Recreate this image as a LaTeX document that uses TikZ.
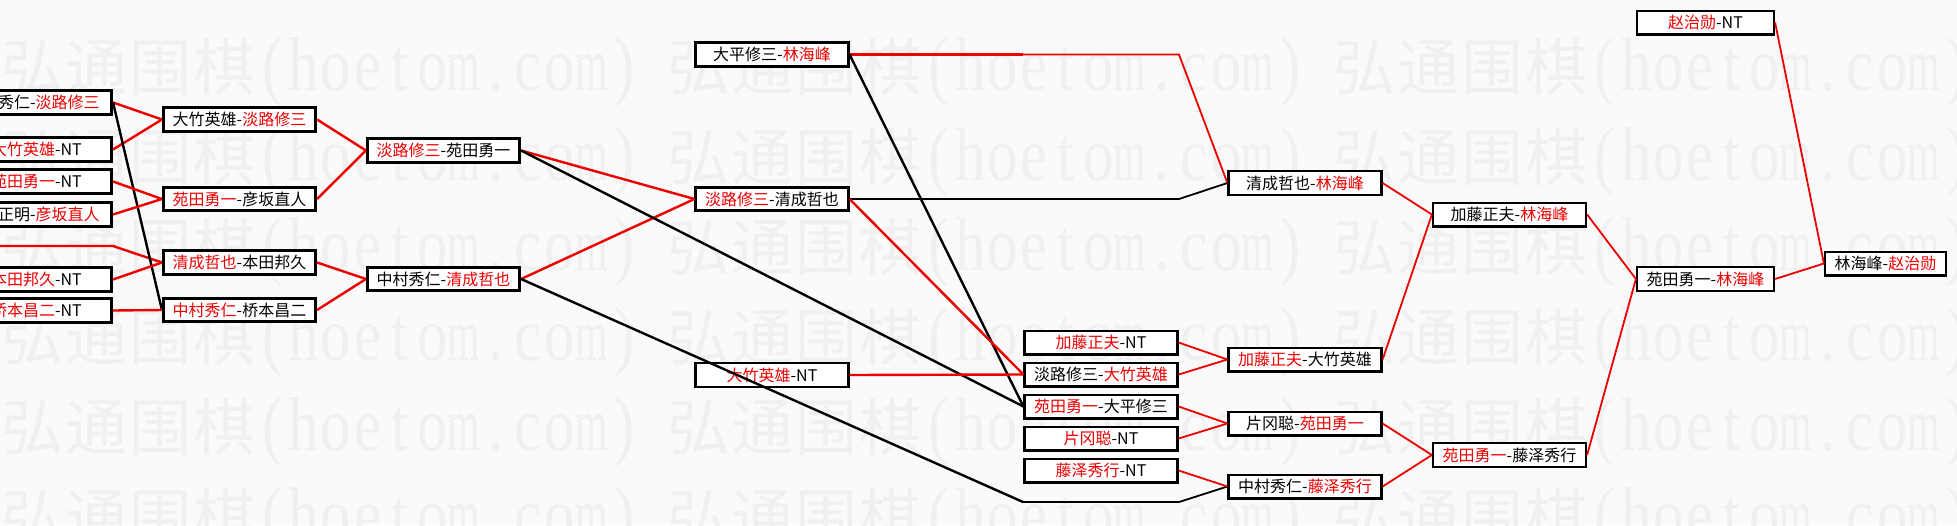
\documentclass[tikz,border=0pt]{standalone}
\usepackage{fontspec}
\usepackage{graphicx}
\setmainfont{Noto Sans CJK SC}
\newfontfamily\wmlat{Liberation Serif}
\definecolor{tred}{RGB}{236,0,0}
\definecolor{bgc}{RGB}{250,250,250}
\definecolor{wmc}{RGB}{240,240,240}
\newcommand\rd[1]{\textcolor{tred}{#1}}
\newcommand\wmC[1]{\makebox[64pt][c]{\fontsize{62}{62}\selectfont #1}}
\newcommand\wmA[2][0.8]{\makebox[32pt][c]{\wmlat\fontsize{76}{76}\selectfont\scalebox{#1}[1]{#2}}}
\newcommand\wmstr{\wmC{弘}\wmC{通}\wmC{围}\wmC{棋}\wmA{(}\wmA{h}\wmA{o}\wmA{e}\wmA{t}\wmA{o}\wmA[0.55]{m}\wmA{.}\wmA{c}\wmA{o}\wmA[0.55]{m}\wmA{)}}
\begin{document}
\begin{tikzpicture}[x=1pt,y=-1pt,
  box/.style={draw=black, line width=2.6pt, fill=white, minimum height=23.5pt,
    minimum width=152.5pt, inner sep=0pt, font=\fontsize{16}{16.5}\selectfont},
  boxr/.style={box, line width=2.2pt, minimum width=153pt, minimum height=23.8pt},
  box0/.style={box, text width=152.5pt, align=right},
  con/.style={line width=2.4pt, draw=tred},
  conk/.style={line width=2.4pt, draw=black},
  thn/.style={line width=1.8pt},
  wm/.style={anchor=base west, inner sep=0pt, text=wmc}]
\useasboundingbox (0,0) rectangle (1957,525);
\clip (0,0) rectangle (1957,525);
\fill[bgc] (0,0) rectangle (1957,525);
% watermark
\foreach \r in {0,...,5}{
  \foreach \c in {0,1,2}{
    \node[wm] (wm\r\c) at (666*\c, 90+90*\r) {\wmstr};
  }
}
% column 0 (cut off at the left edge)
\node[box0] (a1) at (35.5,102.5) {秀仁-\rd{淡路修三}\rule{12pt}{0pt}};
\node[box0] (a2) at (35.5,149.5) {\rd{大竹英雄}-NT\rule{30pt}{0pt}};
\node[box0] (a3) at (35.5,181.5) {\rd{苑田勇一}-NT\rule{30pt}{0pt}};
\node[box0] (a4) at (35.5,214.5) {正明-\rd{彦坂直人}\rule{12pt}{0pt}};
\node[box0] (a5) at (35.5,279.5) {\rd{本田邦久}-NT\rule{30pt}{0pt}};
\node[box0] (a6) at (35.5,310.5) {\rd{桥本昌二}-NT\rule{30pt}{0pt}};
% column 1
\node[box] (b1) at (239.5,119.5) {大竹英雄-\rd{淡路修三}};
\node[box] (b2) at (239.5,199) {\rd{苑田勇一}-彦坂直人};
\node[box] (b3) at (239.5,262.5) {\rd{清成哲也}-本田邦久};
\node[box] (b4) at (239.5,310) {\rd{中村秀仁}-桥本昌二};
% column 2
\node[box] (c1) at (443.5,150.5) {\rd{淡路修三}-苑田勇一};
\node[box] (c2) at (443.5,279) {中村秀仁-\rd{清成哲也}};
% column 3
\node[box] (d1) at (772,54.5) {大平修三-\rd{林海峰}};
\node[box] (d2) at (772,199) {\rd{淡路修三}-清成哲也};
\node[boxr] (d3) at (772,375) {\rd{大竹英雄}-NT};
% column 4
\node[boxr] (e1) at (1101,342.5) {\rd{加藤正夫}-NT};
\node[boxr] (e2) at (1101,374.5) {淡路修三-\rd{大竹英雄}};
\node[boxr] (e3) at (1101,406.5) {\rd{苑田勇一}-大平修三};
\node[boxr] (e4) at (1101,438.5) {\rd{片冈聪}-NT};
\node[boxr] (e5) at (1101,470.5) {\rd{藤泽秀行}-NT};
% column 5
\node[boxr] (f1) at (1305,183) {清成哲也-\rd{林海峰}};
\node[boxr] (f2) at (1305,359.5) {\rd{加藤正夫}-大竹英雄};
\node[boxr] (f3) at (1305,423.5) {片冈聪-\rd{苑田勇一}};
\node[boxr] (f4) at (1305,486.5) {中村秀仁-\rd{藤泽秀行}};
% column 6
\node[boxr] (g1) at (1509.5,214.5) {加藤正夫-\rd{林海峰}};
\node[boxr] (g2) at (1509.5,455) {\rd{苑田勇一}-藤泽秀行};
% column 7
\node[boxr, minimum width=137pt] (h1) at (1705.5,22.5) {\rd{赵治勋}-NT};
\node[boxr, minimum width=137pt] (h2) at (1705.5,279) {苑田勇一-\rd{林海峰}};
% column 8
\node[boxr, minimum width=121pt] (i1) at (1885.5,263.5) {林海峰-\rd{赵治勋}};
% connectors
\coordinate (p0) at (-10,246);
\coordinate (q0) at (113,246);
\draw[con] (p0) -- (q0) -- (b3.west);
\draw[con] (a1.east) -- (b1.west);
\draw[con] (a2.east) -- (b1.west);
\draw[conk] (a1.east) -- (b4.west);
\draw[con] (a3.east) -- (b2.west);
\draw[con] (a4.east) -- (b2.west);
\draw[con] (a5.east) -- (b3.west);
\draw[con] (a6.east) -- (b4.west);
\draw[con] (b1.east) -- (c1.west);
\draw[con] (b2.east) -- (c1.west);
\draw[con] (b3.east) -- (c2.west);
\draw[con] (b4.east) -- (c2.west);
\draw[con] (c1.east) -- (d2.west);
\draw[con] (c2.east) -- (d2.west);
\draw[conk] (c1.east) -- (e3.west);
\coordinate (k1) at (1023,502);
\coordinate (k2) at (1179,502);
\draw[conk] (c2.east) -- (k1);
\draw[conk,thn] (k1) -- (k2) -- (f4.west);
\coordinate (r1) at (1023,54.5);
\coordinate (r2) at (1179,54.5);
\draw[con] (d1.east) -- (r1);
\draw[con,thn] (r1) -- (r2) -- (f1.west);
\draw[conk] (d1.east) -- (e3.west);
\coordinate (s1) at (1023,199);
\coordinate (s2) at (1179,199);
\draw[conk] (d2.east) -- (s1);
\draw[conk,thn] (s1) -- (s2) -- (f1.west);
\draw[con] (d2.east) -- (e2.west);
\draw[con] (d3.east) -- (e2.west);
\draw[con,thn] (e1.east) -- (f2.west);
\draw[con,thn] (e2.east) -- (f2.west);
\draw[con,thn] (e3.east) -- (f3.west);
\draw[con,thn] (e4.east) -- (f3.west);
\draw[con,thn] (e5.east) -- (f4.west);
\draw[con,thn] (f1.east) -- (g1.west);
\draw[con,thn] (f2.east) -- (g1.west);
\draw[con,thn] (f3.east) -- (g2.west);
\draw[con,thn] (f4.east) -- (g2.west);
\draw[con,thn] (g1.east) -- (h2.west);
\draw[con,thn] (g2.east) -- (h2.west);
\draw[con,thn] (h1.east) -- (i1.west);
\draw[con,thn] (h2.east) -- (i1.west);
\end{tikzpicture}
\end{document}
